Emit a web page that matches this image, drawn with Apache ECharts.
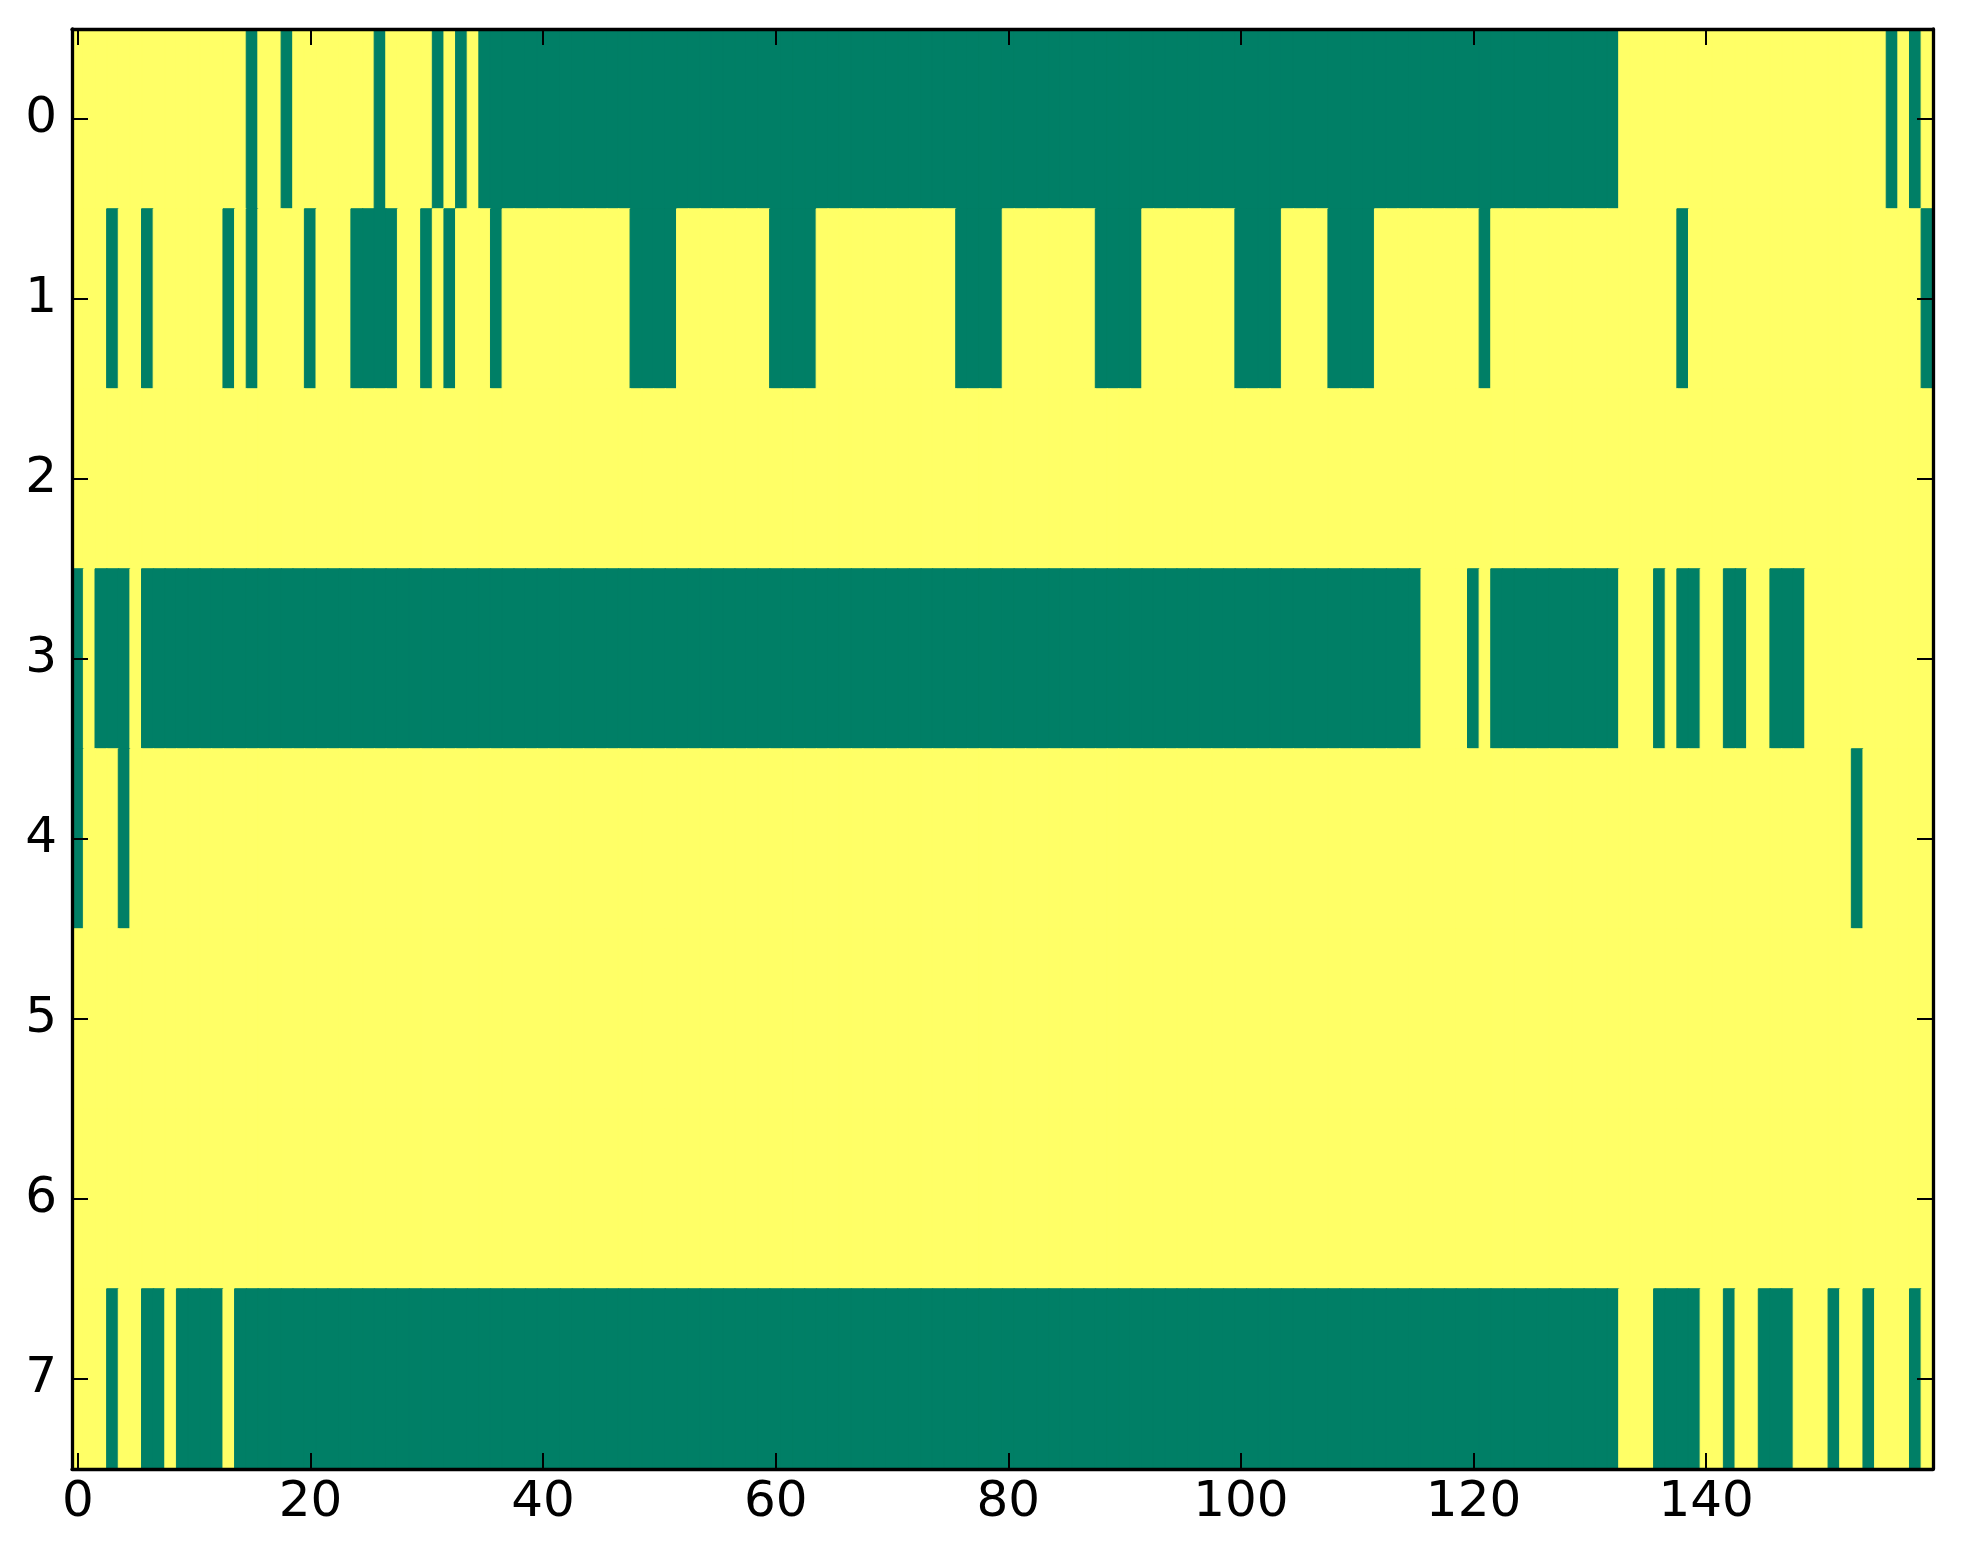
<!DOCTYPE html>
<html>
<head>
<meta charset="utf-8">
<script src="https://cdn.jsdelivr.net/npm/echarts@6/dist/echarts.min.js"></script>
<style>
html,body{margin:0;padding:0;background:#fff;}
#chart{width:1963px;height:1564px;}
</style>
</head>
<body>
<div id="chart"></div>
<script>
// Binary matrix, 8 rows x 160 columns (1 = green, 0 = yellow), written in blocks of 10 columns.
const row0 = "0000000000"+"0000010010"+"0000001000"+"0101011111"+"1111111111"+"1111111111"+"1111111111"+"1111111111"+"1111111111"+"1111111111"+"1111111111"+"1111111111"+"1111111111"+"1110000000"+"0000000000"+"0000001010";
const row1 = "0001001000"+"0001010000"+"1000111100"+"1010001000"+"0000000011"+"1100000000"+"1111000000"+"0000001111"+"0000000011"+"1100000000"+"1111000011"+"1100000000"+"0100000000"+"0000000010"+"0000000000"+"0000000001";
const row2 = "0000000000"+"0000000000"+"0000000000"+"0000000000"+"0000000000"+"0000000000"+"0000000000"+"0000000000"+"0000000000"+"0000000000"+"0000000000"+"0000000000"+"0000000000"+"0000000000"+"0000000000"+"0000000000";
const row3 = "1011101111"+"1111111111"+"1111111111"+"1111111111"+"1111111111"+"1111111111"+"1111111111"+"1111111111"+"1111111111"+"1111111111"+"1111111111"+"1111110000"+"1011111111"+"1110001011"+"0011001110"+"0000000000";
const row4 = "1000100000"+"0000000000"+"0000000000"+"0000000000"+"0000000000"+"0000000000"+"0000000000"+"0000000000"+"0000000000"+"0000000000"+"0000000000"+"0000000000"+"0000000000"+"0000000000"+"0000000000"+"0001000000";
const row5 = "0000000000"+"0000000000"+"0000000000"+"0000000000"+"0000000000"+"0000000000"+"0000000000"+"0000000000"+"0000000000"+"0000000000"+"0000000000"+"0000000000"+"0000000000"+"0000000000"+"0000000000"+"0000000000";
const row6 = "0000000000"+"0000000000"+"0000000000"+"0000000000"+"0000000000"+"0000000000"+"0000000000"+"0000000000"+"0000000000"+"0000000000"+"0000000000"+"0000000000"+"0000000000"+"0000000000"+"0000000000"+"0000000000";
const row7 = "0001001101"+"1110111111"+"1111111111"+"1111111111"+"1111111111"+"1111111111"+"1111111111"+"1111111111"+"1111111111"+"1111111111"+"1111111111"+"1111111111"+"1111111111"+"1110001111"+"0010011100"+"0100100010";

const rows = [row0,row1,row2,row3,row4,row5,row6,row7];
const rowLabels = ["0","1","2","3","4","5","6","7"];
const nCols = 160;
const colLabels = Array.from({length:nCols},(_,i)=>String(i));
const tickStep = 20;
const palette = ['#ffff66', '#007f66'];

const data = [];
rows.forEach((r,y)=>{
  for(let x=0;x<nCols;x++){
    const v = Number(r[x]);
    const c = palette[v];
    data.push({value:[x,y,v], itemStyle:{color:c, borderColor:c, borderWidth:1}});
  }
});

const FONT = {fontFamily:"DejaVu Sans", fontSize:50, color:"#000"};
const lineStyle = {color:"#000", width:3.3};
const tickStyle = {color:"#000", width:2};
const every = (i)=> i % tickStep === 0;

const chart = echarts.init(document.getElementById('chart'), null, {renderer:'canvas'});
chart.setOption({
  backgroundColor:'#ffffff',
  animation:false,
  grid:{left:72, right:30, top:29, bottom:95, show:false},
  xAxis:[{
    type:'category', data:colLabels, position:'bottom', boundaryGap:true,
    axisLine:{show:true, onZero:false, lineStyle},
    axisTick:{show:true, inside:true, length:16, alignWithLabel:true, interval:(i)=>every(i), lineStyle:tickStyle},
    axisLabel:{show:true, interval:(i)=>every(i), margin:9, ...FONT},
    splitLine:{show:false}, z:10
  },{
    type:'category', data:colLabels, position:'top', boundaryGap:true,
    axisLine:{show:true, onZero:false, lineStyle},
    axisTick:{show:true, inside:true, length:16, alignWithLabel:true, interval:(i)=>every(i), lineStyle:tickStyle},
    axisLabel:{show:false}, splitLine:{show:false}, z:10
  }],
  yAxis:[{
    type:'category', data:rowLabels, inverse:true, position:'left', boundaryGap:true,
    axisLine:{show:true, onZero:false, lineStyle},
    axisTick:{show:true, inside:true, length:16, alignWithLabel:true, lineStyle:tickStyle},
    axisLabel:{show:true, margin:15, ...FONT},
    splitLine:{show:false}, z:10
  },{
    type:'category', data:rowLabels, inverse:true, position:'right', boundaryGap:true,
    axisLine:{show:true, onZero:false, lineStyle},
    axisTick:{show:true, inside:true, length:16, alignWithLabel:true, lineStyle:tickStyle},
    axisLabel:{show:false}, splitLine:{show:false}, z:10
  }],
  series:[{
    type:'heatmap', xAxisIndex:0, yAxisIndex:0, data:data,
    emphasis:{disabled:true}, progressive:0
  }]
});
</script>
</body>
</html>
